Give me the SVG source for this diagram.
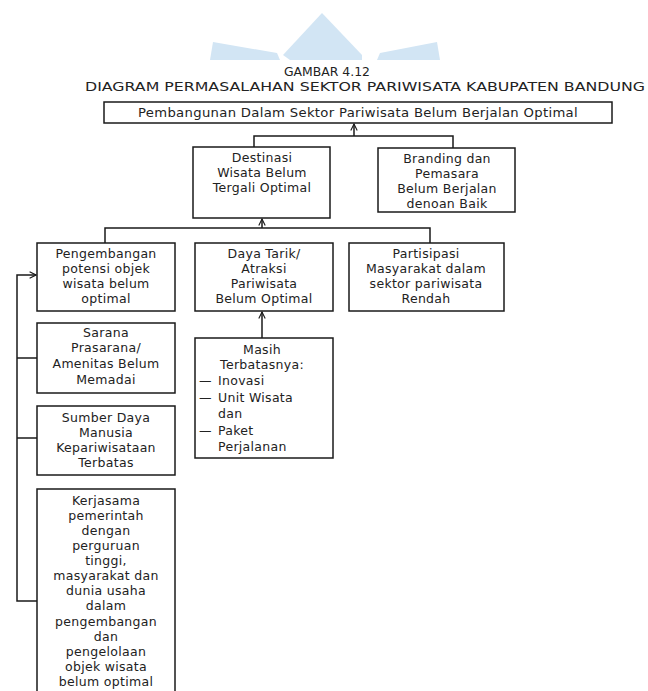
<svg xmlns="http://www.w3.org/2000/svg" width="648" height="691" viewBox="0 0 648 691">
<style>
.box{fill:#fff;stroke:#1a1a1a;stroke-width:1.5}
.t{font-family:"DejaVu Sans","Liberation Sans",sans-serif;font-size:12.5px;letter-spacing:0.3px;fill:#222;text-anchor:middle}
.tl{text-anchor:start}
.h{font-family:"DejaVu Sans","Liberation Sans",sans-serif;font-size:12.5px;fill:#222;text-anchor:middle}
.c{fill:none;stroke:#1a1a1a;stroke-width:1.5}
.wm{fill:#d2e5f4}
</style>
<defs>
<marker id="ah" viewBox="0 0 10 10" refX="9" refY="5" markerWidth="8" markerHeight="8" markerUnits="userSpaceOnUse" orient="auto">
<path d="M1,1 L9,5 L1,9" fill="none" stroke="#1a1a1a" stroke-width="1.4"/>
</marker>
</defs>
<rect width="648" height="691" fill="#fff"/>
<g id="watermark">
<polygon class="wm" points="322,13 283,55 290,60 362,60 362,55"/>
<polygon class="wm" points="213,42 277,53 280,60 210,60"/>
<polygon class="wm" points="380,53 437,42 440,60 377,60"/>
</g>
<g id="title">
<text class="h" x="327" y="76" textLength="86" lengthAdjust="spacingAndGlyphs">GAMBAR 4.12</text>
<text class="h" x="365" y="91" textLength="560" lengthAdjust="spacingAndGlyphs">DIAGRAM PERMASALAHAN SEKTOR PARIWISATA KABUPATEN BANDUNG</text>
</g>
<g id="connectors">
<path class="c" d="M354,136 V124" marker-end="url(#ah)"/>
<path class="c" d="M254,147 V136 H453 V148"/>
<path class="c" d="M262,228 V219" marker-end="url(#ah)"/>
<path class="c" d="M105,243 V228 H430 V243"/>
<path class="c" d="M262,338 V312" marker-end="url(#ah)"/>
<path class="c" d="M37,601 H17 V275 H36" marker-end="url(#ah)"/>
<path class="c" d="M17,358 H37"/>
<path class="c" d="M17,438 H37"/>
</g>
<g id="n-top">
<rect class="box" x="104" y="102" width="508" height="21"/>
<text class="t" x="358" y="117" textLength="440" lengthAdjust="spacingAndGlyphs">Pembangunan Dalam Sektor Pariwisata Belum Berjalan Optimal</text>
</g>
<g id="n-destinasi">
<rect class="box" x="193" y="147" width="137" height="71"/>
<text class="t" x="262" y="162">Destinasi</text>
<text class="t" x="262" y="177">Wisata Belum</text>
<text class="t" x="262" y="192">Tergali Optimal</text>
</g>
<g id="n-branding">
<rect class="box" x="378" y="148" width="137" height="64"/>
<text class="t" x="447" y="163">Branding dan</text>
<text class="t" x="447" y="178">Pemasara</text>
<text class="t" x="447" y="193">Belum Berjalan</text>
<text class="t" x="447" y="208">denoan Baik</text>
</g>
<g id="n-pengembangan">
<rect class="box" x="37" y="243" width="138" height="68"/>
<text class="t" x="106" y="258">Pengembangan</text>
<text class="t" x="106" y="273">potensi objek</text>
<text class="t" x="106" y="288">wisata belum</text>
<text class="t" x="106" y="303">optimal</text>
</g>
<g id="n-dayatarik">
<rect class="box" x="195" y="243" width="138" height="68"/>
<text class="t" x="264" y="258">Daya Tarik/</text>
<text class="t" x="264" y="273">Atraksi</text>
<text class="t" x="264" y="288">Pariwisata</text>
<text class="t" x="264" y="303">Belum Optimal</text>
</g>
<g id="n-partisipasi">
<rect class="box" x="349" y="243" width="155" height="68"/>
<text class="t" x="426" y="258">Partisipasi</text>
<text class="t" x="426" y="273">Masyarakat dalam</text>
<text class="t" x="426" y="288">sektor pariwisata</text>
<text class="t" x="426" y="303">Rendah</text>
</g>
<g id="n-sarana">
<rect class="box" x="37" y="323" width="138" height="70"/>
<text class="t" x="106" y="337">Sarana</text>
<text class="t" x="106" y="352">Prasarana/</text>
<text class="t" x="106" y="368">Amenitas Belum</text>
<text class="t" x="106" y="384">Memadai</text>
</g>
<g id="n-sdm">
<rect class="box" x="37" y="406" width="138" height="69"/>
<text class="t" x="106" y="422">Sumber Daya</text>
<text class="t" x="106" y="437">Manusia</text>
<text class="t" x="106" y="452">Kepariwisataan</text>
<text class="t" x="106" y="467">Terbatas</text>
</g>
<g id="n-masih">
<rect class="box" x="195" y="338" width="138" height="120"/>
<text class="t" x="262" y="354">Masih</text>
<text class="t" x="262" y="369">Terbatasnya:</text>
<text class="t tl" x="199" y="385">—</text>
<text class="t tl" x="218" y="385">Inovasi</text>
<text class="t tl" x="199" y="402">—</text>
<text class="t tl" x="218" y="402">Unit Wisata</text>
<text class="t tl" x="218" y="418">dan</text>
<text class="t tl" x="199" y="435">—</text>
<text class="t tl" x="218" y="435">Paket</text>
<text class="t tl" x="218" y="451">Perjalanan</text>
</g>
<g id="n-kerjasama">
<rect class="box" x="37" y="489" width="138" height="210"/>
<text class="t" x="106" y="505">Kerjasama</text>
<text class="t" x="106" y="520">pemerintah</text>
<text class="t" x="106" y="535">dengan</text>
<text class="t" x="106" y="550">perguruan</text>
<text class="t" x="106" y="565">tinggi,</text>
<text class="t" x="106" y="580">masyarakat dan</text>
<text class="t" x="106" y="595">dunia usaha</text>
<text class="t" x="106" y="610">dalam</text>
<text class="t" x="106" y="626">pengembangan</text>
<text class="t" x="106" y="641">dan</text>
<text class="t" x="106" y="656">pengelolaan</text>
<text class="t" x="106" y="671">objek wisata</text>
<text class="t" x="106" y="686">belum optimal</text>
</g>
</svg>
